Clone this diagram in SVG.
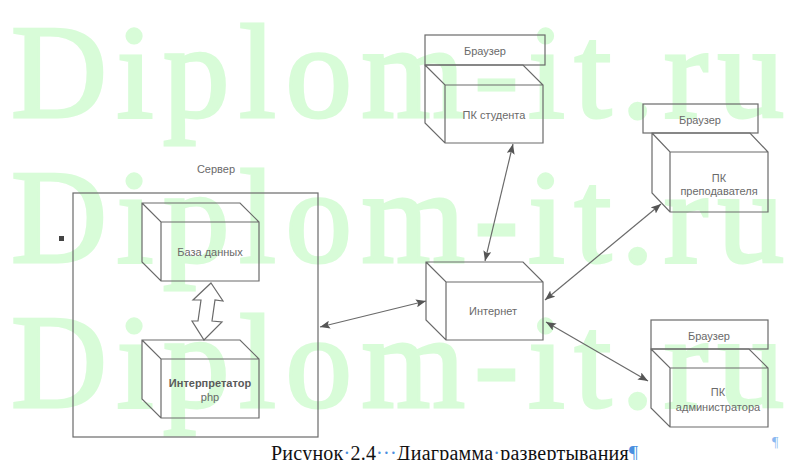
<svg xmlns="http://www.w3.org/2000/svg" width="792" height="460" viewBox="0 0 792 460">
<style>
.wm{font-family:"Liberation Serif","Times New Roman",serif;font-size:133px;fill:#d8fcd8;stroke:#d8fcd8;stroke-width:3}
.box{fill:none;stroke:#6a6a6a;stroke-width:1.2}
.lbl{font-family:"Liberation Sans",Arial,sans-serif;font-size:11px;fill:#6a6a6a;text-anchor:middle}
.bold{font-weight:bold;fill:#5a5a5a}
.con{fill:none;stroke:#6a6a6a;stroke-width:1.2;marker-start:url(#ah);marker-end:url(#ah)}
.cap{font-family:"Liberation Serif","Times New Roman",serif;font-size:20px;fill:#111}
.fm{fill:#4a8fe0}
</style>
<defs>
<marker id="ah" viewBox="0 0 10 8" refX="10" refY="4" markerWidth="10" markerHeight="8" markerUnits="userSpaceOnUse" orient="auto-start-reverse">
<path d="M0,0 L10,4 L0,8 L2,4 z" fill="#555"/>
</marker>
</defs>
<rect width="792" height="460" fill="#fff"/>
<g id="watermark">
<text class="wm" x="11" y="117" textLength="773" lengthAdjust="spacing">Diplom-it.ru</text>
<text class="wm" x="11" y="262" textLength="773" lengthAdjust="spacing">Diplom-it.ru</text>
<text class="wm" x="11" y="407" textLength="773" lengthAdjust="spacing">Diplom-it.ru</text>
</g>
<rect x="59" y="236" width="5" height="5" fill="#444"/>
<g id="server">
<rect class="box" x="73" y="193" width="245" height="244"/>
<text class="lbl" x="216" y="173">Сервер</text>
</g>
<g id="db">
<path class="box" d="M142,203 L240,203 L259,222 L259,281 L161,281 L142,262 Z M142,203 L161,222 L259,222 M161,222 L161,281"/>
<text class="lbl" x="210" y="256">База данных</text>
</g>
<g id="interp">
<path class="box" d="M142,340 L240,340 L259,359 L259,418 L161,418 L142,399 Z M142,340 L161,359 L259,359 M161,359 L161,418"/>
<text class="lbl bold" x="210" y="387">Интерпретатор</text>
<text class="lbl" x="210" y="401">php</text>
</g>
<g id="internet">
<path class="box" d="M426,262 L523,262 L543,282 L543,340 L446,340 L426,320 Z M426,262 L446,282 L543,282 M446,282 L446,340"/>
<text class="lbl" x="493" y="315">Интернет</text>
</g>
<g id="student">
<rect class="box" x="425" y="35" width="120" height="30"/>
<text class="lbl" x="485" y="55">Браузер</text>
<path class="box" d="M425,65 L523,65 L543,85 L543,143 L445,143 L425,123 Z M425,65 L445,85 L543,85 M445,85 L445,143"/>
<text class="lbl" x="494" y="119">ПК студента</text>
</g>
<g id="teacher">
<rect class="box" x="643" y="104" width="115" height="29"/>
<text class="lbl" x="700" y="124">Браузер</text>
<path class="box" d="M652,133 L750,133 L768,152 L768,212 L670,212 L652,193 Z M652,133 L670,152 L768,152 M670,152 L670,212"/>
<text class="lbl" x="719" y="182">ПК</text>
<text class="lbl" x="719" y="195">преподавателя</text>
</g>
<g id="admin">
<rect class="box" x="651" y="320" width="117" height="29"/>
<text class="lbl" x="709" y="340">Браузер</text>
<path class="box" d="M651,349 L749,349 L768,368 L768,427 L670,427 L651,408 Z M651,349 L670,368 L768,368 M670,368 L670,427"/>
<text class="lbl" x="718" y="396">ПК</text>
<text class="lbl" x="718" y="411">администратора</text>
</g>
<g id="connectors">
<polygon points="211,283 223,301 215,300 212,321 222,322 204,340 192,321 198,321 201,300 193,300" fill="none" stroke="#6a6a6a" stroke-width="1.2"/>
<line class="con" x1="513" y1="144" x2="485" y2="261"/>
<line class="con" x1="545" y1="300" x2="661" y2="204"/>
<line class="con" x1="546" y1="322" x2="648" y2="381"/>
<line class="con" x1="320" y1="327" x2="426" y2="301"/>
</g>
<text class="cap" x="271" y="460" textLength="367" lengthAdjust="spacing">Рисунок<tspan class="fm">·</tspan>2.4<tspan class="fm">···</tspan>Диаграмма<tspan class="fm">·</tspan>развертывания<tspan class="fm">¶</tspan></text>
<text x="772" y="447" font-family="Liberation Serif, serif" font-size="14" fill="#8ab8f0">¶</text>
</svg>
